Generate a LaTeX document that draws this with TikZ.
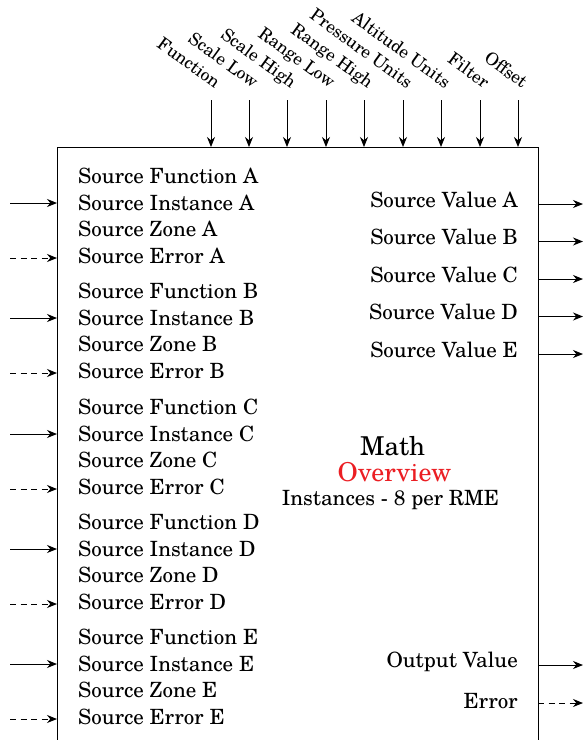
\documentclass[tikz,border=0pt]{standalone}
\usepackage{fontspec}
\setmainfont{TeX Gyre Schola}
\usetikzlibrary{arrows.meta}
\definecolor{ovred}{RGB}{235,30,35}
\tikzset{
  lbl/.style={font=\fontsize{21}{23}\selectfont, inner sep=0pt},
  toplbl/.style={font=\fontsize{17.5}{19}\selectfont, inner sep=0pt, rotate=-36, anchor=base east},
  arr/.style={-{Stealth[length=10pt,width=8pt]}, line width=1pt},
  darr/.style={arr, dash pattern=on 6pt off 4.5pt},
  box/.style={draw, line width=1pt}
}
\begin{document}
\begin{tikzpicture}[x=1pt,y=-1pt]
\useasboundingbox (0,0) rectangle (586,740);
\clip (0,0) rectangle (586,740);
\draw[box] (57,147) rectangle (538,780);
% top inputs
\foreach \n/\x/\t in {f/211/Function, sl/249/Scale Low, sh/287/Scale High, rl/326/Range Low, rh/364/Range High, pu/403/Pressure Units, au/441/Altitude Units, fi/480/Filter, of/518/Offset}{
  \coordinate (s\n) at (\x,100);
  \coordinate (e\n) at (\x,147);
  \node[toplbl] (l\n) at (\x+4,89) {\t};
  \draw[arr] (s\n) -- (e\n);
}
% left groups
\foreach \g/\y in {A/176, B/291, C/407, D/522, E/637}{
  \node[lbl, anchor=base west] (fn\g) at (78,\y+7) {Source Function \g};
  \node[lbl, anchor=base west] (in\g) at (78,\y+34) {Source Instance \g};
  \node[lbl, anchor=base west] (zn\g) at (78,\y+60) {Source Zone \g};
  \node[lbl, anchor=base west] (er\g) at (78,\y+87) {Source Error \g};
  \coordinate (ia\g) at (10,\y+27);
  \coordinate (ib\g) at (57,\y+27);
  \coordinate (ea\g) at (10,\y+82);
  \coordinate (eb\g) at (57,\y+82);
  \draw[arr] (ia\g) -- (ib\g);
  \draw[darr] (ea\g) -- (eb\g);
}
% right outputs
\foreach \g/\y in {A/204, B/241.5, C/279, D/316.5, E/354}{
  \node[lbl, anchor=base east] (sv\g) at (518,\y+3) {Source Value \g};
  \coordinate (oa\g) at (538,\y);
  \coordinate (ob\g) at (583,\y);
  \draw[arr] (oa\g) -- (ob\g);
}
\node[lbl, anchor=base east] (ov) at (518,667) {Output Value};
\coordinate (ova) at (538,665);
\coordinate (ovb) at (583,665);
\draw[arr] (ova) -- (ovb);
\node[lbl, anchor=base east] (err) at (518,708) {Error};
\coordinate (era) at (538,703);
\coordinate (erb) at (583,703);
\draw[darr] (era) -- (erb);
% centre
\node[font=\fontsize{26}{28}\selectfont, inner sep=0pt, anchor=base] (math) at (392.5,455) {Math};
\node[font=\fontsize{26}{28}\selectfont, inner sep=0pt, anchor=base, text=ovred] (ovw) at (394.5,481) {Overview};
\node[lbl, anchor=base] (inst) at (390.5,505) {Instances - 8 per RME};
\end{tikzpicture}
\end{document}
